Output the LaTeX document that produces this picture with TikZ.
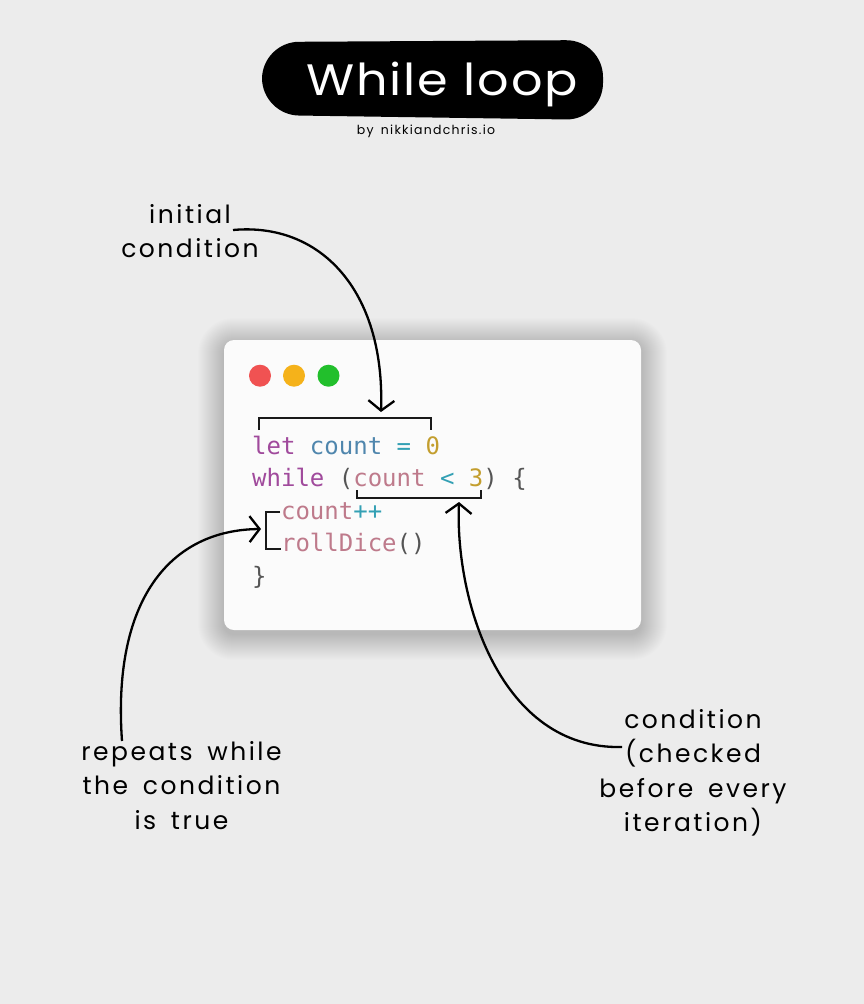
\documentclass[tikz,border=0pt]{standalone}
\usepackage{fontspec}
\usetikzlibrary{arrows.meta}
\newfontfamily\hand{Poppins}[LetterSpace=10,WordSpace=1.6]
\newfontfamily\titlefont{Poppins}[LetterSpace=4]
\newfontfamily\codefont{DejaVu Sans Mono}
\definecolor{bg}{HTML}{ECECEC}
\definecolor{winbg}{HTML}{FBFBFB}
\definecolor{dred}{HTML}{F05252}
\definecolor{dyel}{HTML}{F5B21A}
\definecolor{dgrn}{HTML}{22BF2C}
\definecolor{ckw}{HTML}{A04A9C}
\definecolor{cvar}{HTML}{4F86AD}
\definecolor{cop}{HTML}{33A0B4}
\definecolor{cnum}{HTML}{C39E2E}
\definecolor{cpun}{HTML}{555555}
\definecolor{crose}{HTML}{BE7A8B}
\tikzset{
  x=1pt, y=-1pt,
  lbl/.style={inner sep=0pt, font=\hand\fontsize{25}{34.5}\selectfont},
  codeln/.style={inner sep=0pt, anchor=base west, font=\codefont\fontsize{24}{32}\selectfont},
  dot/.style={circle, inner sep=0pt, minimum size=22pt},
  callout/.style={line width=2.3pt, black, -{Straight Barb[length=10pt,width=26pt,line width=2.3pt]}},
  brk/.style={line width=2pt, black!90}
}
\begin{document}
\begin{tikzpicture}
\useasboundingbox (0,0) rectangle (864,1004);
\fill[bg] (0,0) rectangle (864,1004);
% title pill
\fill[black, rounded corners=37pt] (262,42) -- (603,40) -- (603,120) -- (262,115) -- cycle;
\node[text=white, inner sep=0pt, anchor=base, font=\titlefont\fontsize{44}{50}\selectfont] (title) at (442,95) {\scalebox{1.12}[1]{While loop}};
\node[inner sep=0pt, anchor=base, font=\hand\fontsize{12.5}{14}\selectfont] (sub) at (426,134) {by nikkiandchris.io};
% window shadow (soft)
\foreach \i in {1,...,26} {
  \fill[black, opacity=0.007, rounded corners={10pt+\i pt}] (224-\i,344-\i) rectangle (641+\i,634+\i);
}
\node[draw=none, fill=winbg, rounded corners=10pt, minimum width=417pt, minimum height=290pt, inner sep=0pt] (win) at (432.5,485) {};
\node[dot, fill=dred] (d1) at (260,375.7) {};
\node[dot, fill=dyel] (d2) at (294,375.7) {};
\node[dot, fill=dgrn] (d3) at (328.5,375.7) {};
% code
\node[codeln] (l1) at (252,454) {\textcolor{ckw}{let} \textcolor{cvar}{count} \textcolor{cop}{=} \textcolor{cnum}{0}};
\node[codeln] (l2) at (252,486.5) {\textcolor{ckw}{while} \textcolor{cpun}{(}\textcolor{crose}{count} \textcolor{cop}{<} \textcolor{cnum}{3}\textcolor{cpun}{) \{}};
\node[codeln] (l3) at (252,519) {\phantom{xx}\textcolor{crose}{count}\textcolor{cop}{++}};
\node[codeln] (l4) at (252,551) {\phantom{xx}\textcolor{crose}{rollDice}\textcolor{cpun}{()}};
\node[codeln] (l5) at (252,584) {\textcolor{cpun}{\}}};
% brackets
\draw[brk] (259,430) -- (259,418) -- (431,418) -- (431,430);
\draw[brk] (357,490) -- (357,498) -- (481,498) -- (481,490);
\draw[brk] (280,512) -- (266,512) -- (266,549) -- (281,549);
% labels
\node[lbl, anchor=base] (init) at (190,223) {\begin{tabular}[t]{@{}c@{}}initial\\condition\end{tabular}};
\node[lbl, anchor=base] (rep) at (181.5,760) {\begin{tabular}[t]{@{}c@{}}repeats while\\the condition\\is true\end{tabular}};
\node[lbl, anchor=base] (cond) at (693,728) {\begin{tabular}[t]{@{}c@{}}condition\\(checked\\before every\\iteration)\end{tabular}};
% arrow endpoints
\coordinate (a1s) at (233,230);
\coordinate (a1e) at (381,412);
\coordinate (a2s) at (122,741);
\coordinate (a2e) at (261,529);
\coordinate (a3s) at (622,747);
\coordinate (a3e) at (459,502);
\draw[callout] (a1s) .. controls (320,222) and (385,290) .. (a1e);
\draw[callout] (a2s) .. controls (112,600) and (170,530) .. (a2e);
\draw[callout] (a3s) .. controls (500,750) and (455,600) .. (a3e);
\end{tikzpicture}
\end{document}
